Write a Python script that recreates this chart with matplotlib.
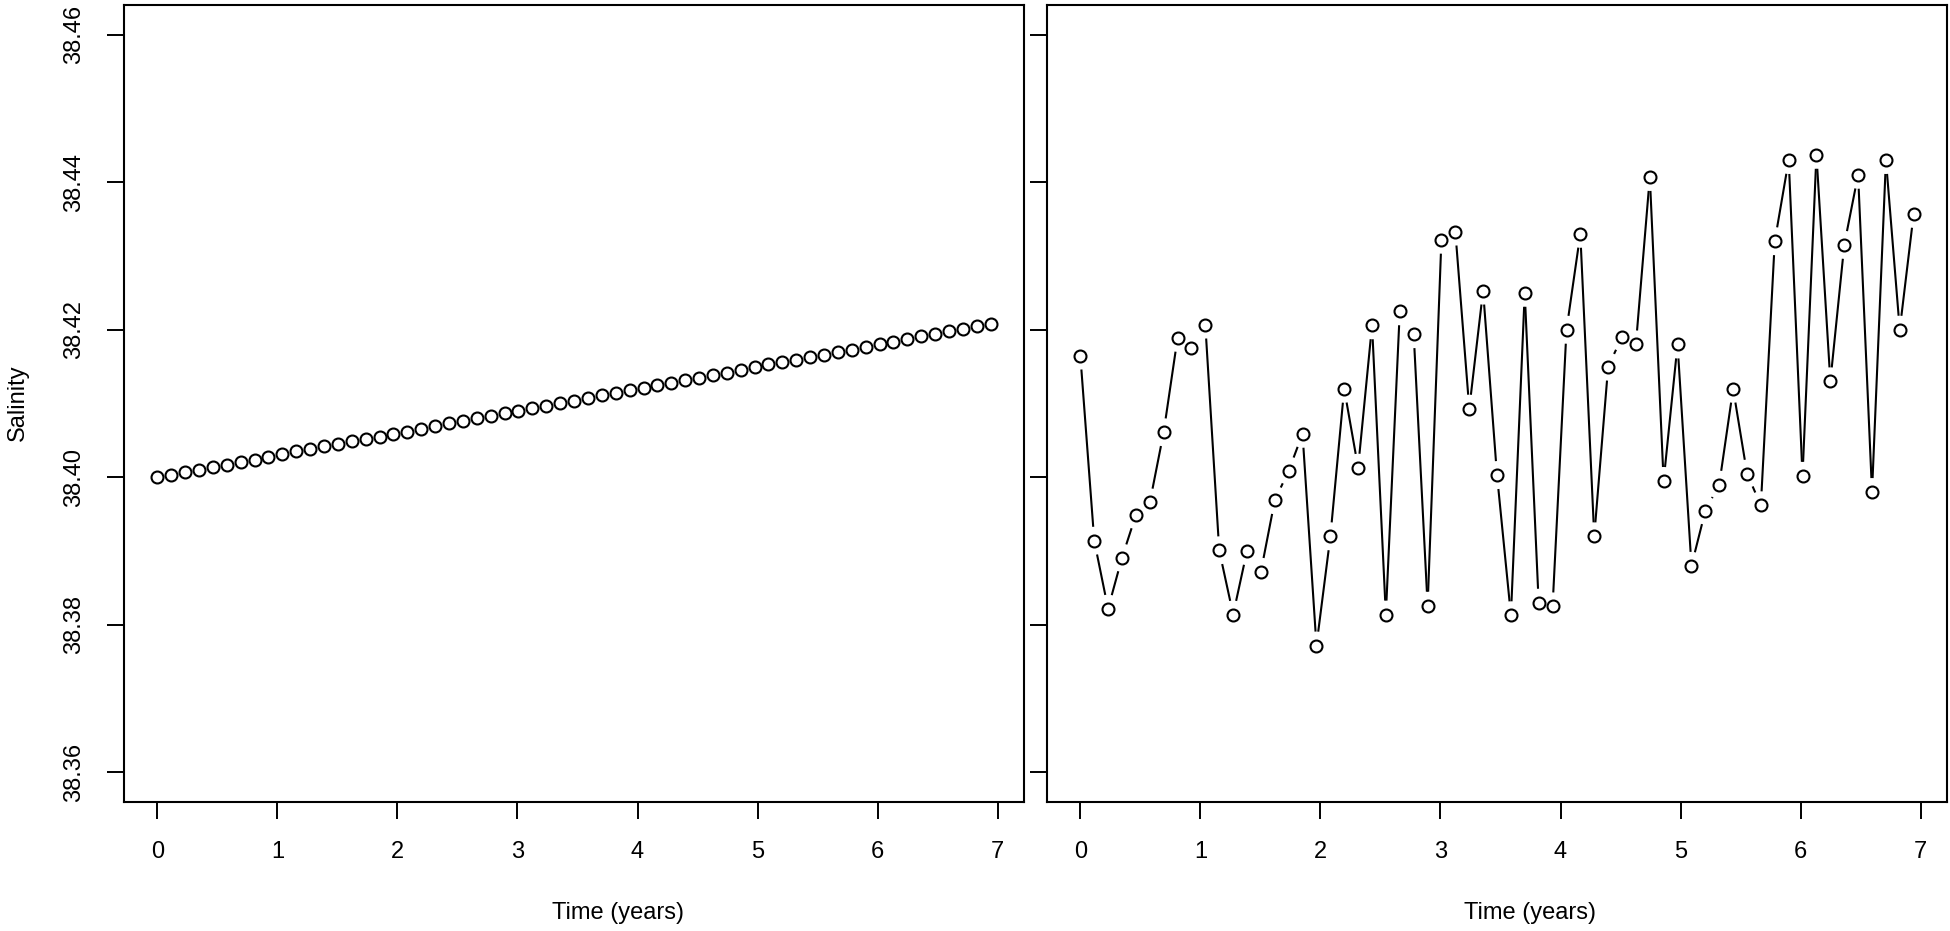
import matplotlib
matplotlib.use("Agg")
import matplotlib.pyplot as plt
import numpy as np
from matplotlib.collections import LineCollection

plt.rcParams['font.family'] = ['Liberation Sans', 'DejaVu Sans']

# ---- data ----
time_years = [0.000, 0.116, 0.231, 0.347, 0.463, 0.579, 0.694, 0.810, 0.926, 1.041,
              1.157, 1.273, 1.388, 1.504, 1.620, 1.736, 1.851, 1.967, 2.083, 2.198,
              2.314, 2.430, 2.545, 2.661, 2.777, 2.893, 3.008, 3.124, 3.240, 3.355,
              3.471, 3.587, 3.702, 3.818, 3.934, 4.050, 4.165, 4.281, 4.397, 4.512,
              4.628, 4.744, 4.859, 4.975, 5.091, 5.207, 5.322, 5.438, 5.554, 5.669,
              5.785, 5.901, 6.016, 6.132, 6.248, 6.364, 6.479, 6.595, 6.711, 6.826,
              6.942]

salinity_trend = [38.4000, 38.4003, 38.4007, 38.4010, 38.4014, 38.4017, 38.4021, 38.4024,
                  38.4028, 38.4031, 38.4035, 38.4038, 38.4042, 38.4045, 38.4049, 38.4052,
                  38.4055, 38.4059, 38.4062, 38.4066, 38.4069, 38.4073, 38.4076, 38.4080,
                  38.4083, 38.4087, 38.4090, 38.4094, 38.4097, 38.4101, 38.4104, 38.4107,
                  38.4111, 38.4114, 38.4118, 38.4121, 38.4125, 38.4128, 38.4132, 38.4135,
                  38.4139, 38.4142, 38.4146, 38.4149, 38.4153, 38.4156, 38.4159, 38.4163,
                  38.4166, 38.4170, 38.4173, 38.4177, 38.4180, 38.4184, 38.4187, 38.4191,
                  38.4194, 38.4198, 38.4201, 38.4205, 38.4208]

salinity_obs = [38.4165, 38.3914, 38.3822, 38.3891, 38.3949, 38.3966, 38.4061, 38.4189,
                38.4175, 38.4207, 38.3901, 38.3814, 38.3900, 38.3872, 38.3969, 38.4009,
                38.4059, 38.3772, 38.3920, 38.4120, 38.4013, 38.4206, 38.3814, 38.4225,
                38.4194, 38.3826, 38.4322, 38.4333, 38.4093, 38.4253, 38.4003, 38.3813,
                38.4250, 38.3830, 38.3825, 38.4200, 38.4330, 38.3920, 38.4150, 38.4190,
                38.4180, 38.4407, 38.3995, 38.4180, 38.3880, 38.3955, 38.3990, 38.4120,
                38.4005, 38.3962, 38.4320, 38.4430, 38.4002, 38.4437, 38.4130, 38.4315,
                38.4410, 38.3980, 38.4430, 38.4200, 38.4357]

x_ticks = [0, 1, 2, 3, 4, 5, 6, 7]
y_ticks = [38.36, 38.38, 38.40, 38.42, 38.44, 38.46]
y_tick_labels = ["38.36", "38.38", "38.40", "38.42", "38.44", "38.46"]
x_label = "Time (years)"
y_label = "Salinity"

# ---- figure ----
W, H = 1950, 931
fig = plt.figure(figsize=(W / 100, H / 100), dpi=100)
ax1 = fig.add_axes([124 / W, 129 / H, 900 / W, 797 / H])
ax2 = fig.add_axes([1047 / W, 129 / H, 900 / W, 797 / H])

FS = 17


def style(ax, show_ylabels, xlabel_x):
    xr = max(time_years) - min(time_years)
    ax.set_xlim(min(time_years) - 0.04 * xr, max(time_years) + 0.04 * xr)
    yr = y_ticks[-1] - y_ticks[0]
    ax.set_ylim(y_ticks[0] - 0.04 * yr, y_ticks[-1] + 0.04 * yr)
    ax.set_xticks(x_ticks)
    ax.set_xticklabels([str(v) for v in x_ticks])
    ax.set_yticks(y_ticks)
    if show_ylabels:
        ax.set_yticklabels(y_tick_labels, rotation=90, va='center')
    else:
        ax.set_yticklabels([])
    for s in ax.spines.values():
        s.set_linewidth(1.5)
        s.set_color('black')
    ax.tick_params(axis='both', direction='out', length=12, width=1.4,
                   labelsize=FS, pad=16, colors='black')
    ax.set_xlabel(x_label, fontsize=FS)
    ax.xaxis.set_label_coords(xlabel_x, (802 - 902) / 797)
    ax.xaxis.label.set_va('top')


def draw_b(ax, x, y, gap_px=14.0):
    pts = ax.transData.transform(np.column_stack([x, y]))
    inv = ax.transData.inverted()
    segs = []
    for p, q in zip(pts[:-1], pts[1:]):
        d = q - p
        L = np.hypot(d[0], d[1])
        if L > 2 * gap_px:
            u = d / L
            a = p + u * gap_px
            b = q - u * gap_px
            segs.append(inv.transform(np.array([a, b])))
    lc = LineCollection(segs, colors='black', linewidths=1.5, capstyle='butt')
    ax.add_collection(lc)
    ax.plot(x, y, linestyle='none', marker='o', ms=8.6, mfc='none',
            mec='black', mew=1.5)


style(ax1, True, 0.549)
style(ax2, False, 0.537)
draw_b(ax1, time_years, salinity_trend)
draw_b(ax2, time_years, salinity_obs)

fig.text(18 / W, 1 - 403 / H, y_label, rotation=90, ha='center', va='center',
         fontsize=FS)

fig.savefig("out.png", dpi=100, facecolor='white')
